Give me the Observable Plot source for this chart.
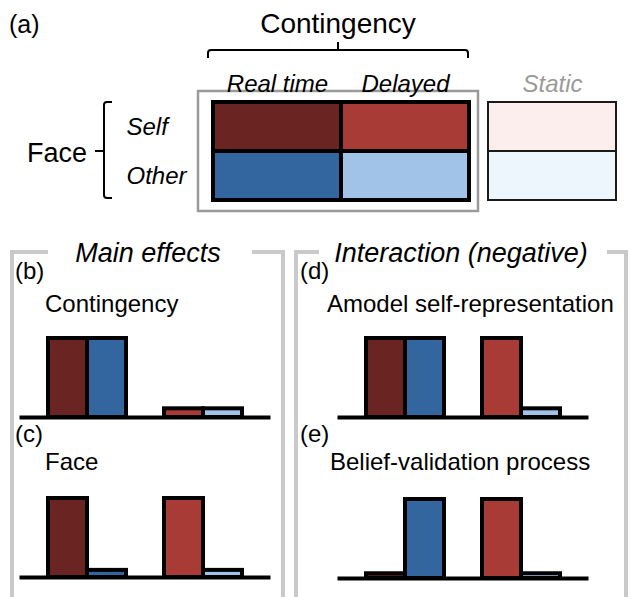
<!DOCTYPE html>
<html>
<head>
<meta charset="utf-8">
<script src="https://cdn.jsdelivr.net/npm/d3@7"></script>
<script src="https://cdn.jsdelivr.net/npm/@observablehq/plot@0.6"></script>
<style>
  html, body { margin: 0; padding: 0; background: white; }
  body { font-family: "Liberation Sans", Arial, Helvetica, sans-serif; }
  #root { position: relative; width: 630px; height: 597px; overflow: hidden; background: white; }
  #root > svg { position: absolute; }
</style>
</head>
<body>
<div id="root"></div>
<script>
// ---------------- data ----------------
const contingencies = ["Real time", "Delayed"];
const faces = ["Self", "Other"];
const staticLabel = ["Static"];

// bar order: Real time/Self, Real time/Other, Delayed/Self, Delayed/Other
const contingencyValues = [1, 1, 0.11, 0.11];        // (b)
const faceValues = [1, 0.09, 1, 0.09];               // (c)
const amodalValues = [1, 1, 1, 0.11];                // (d)
const beliefValues = [0.06, 1, 1, 0.06];             // (e)

const panelTitles = ["Contingency", "Face", "Amodel self-representation", "Belief-validation process"];
const panelLetters = ["(b)", "(c)", "(d)", "(e)"];

// ---------------- styles ----------------
const conditionKeys = ["Real time|Self", "Delayed|Self", "Real time|Other", "Delayed|Other"];
const conditionColors = ["#6a2422", "#a83b36", "#33669e", "#a2c3e8"];
const staticKeys = ["Static|Self", "Static|Other"];
const staticColors = ["#fdeeee", "#eef6fd"];
const FONT = '"Liberation Sans", Arial, Helvetica, sans-serif';
const plotStyle = {background: "transparent", overflow: "visible", fontFamily: FONT, color: "black"};

const root = document.getElementById("root");

// ---------------- decorations (frames, braces, labels) ----------------
const deco = d3.select(root).append("svg")
  .attr("width", 630).attr("height", 597)
  .style("left", "0px").style("top", "0px")
  .attr("font-family", FONT);

function label(x, y, txt, size, opts = {}) {
  deco.append("text")
    .attr("x", x).attr("y", y)
    .attr("font-size", size)
    .attr("text-anchor", opts.anchor || "start")
    .attr("font-style", opts.italic ? "italic" : "normal")
    .attr("fill", opts.fill || "black")
    .text(txt);
}

// (a) header
label(9, 33, "(a)", 25);
label(338, 33, "Contingency", 28, {anchor: "middle"});
deco.append("path")
  .attr("d", "M208,58 V53 Q208,50 211,50 H465 Q468,50 468,53 V58 M338,50 V42")
  .attr("fill", "none").attr("stroke", "black").attr("stroke-width", 2);
// gray box round the contingency grid
deco.append("rect")
  .attr("x", 198).attr("y", 91).attr("width", 280).attr("height", 120)
  .attr("fill", "none").attr("stroke", "#9a9a9a").attr("stroke-width", 2.5);
// Face brace
label(27, 162, "Face", 27);
deco.append("path")
  .attr("d", "M112,102 H107 Q104,102 104,105 V195 Q104,198 107,198 H112 M104,151 H95")
  .attr("fill", "none").attr("stroke", "black").attr("stroke-width", 2);

// gray frames
const frameColor = "#c9c9c9";
deco.append("path")
  .attr("d", "M48,252 H12 V600 M252,252 H283 V600 M319,252 H296 V600 M607,252 H626 V600")
  .attr("fill", "none").attr("stroke", frameColor).attr("stroke-width", 4);
label(148, 262, "Main effects", 27, {anchor: "middle", italic: true});
label(461, 262, "Interaction (negative)", 27, {anchor: "middle", italic: true});

// panel letters and titles
const letterPos = [[15, 279], [15, 442], [300, 279], [300, 442]];
const titlePos = [[45, 312], [45, 470], [327, 312], [330, 470]];
panelLetters.forEach((t, i) => label(letterPos[i][0], letterPos[i][1], t, 24));
panelTitles.forEach((t, i) => label(titlePos[i][0], titlePos[i][1], t, 24));

// ---------------- (a) condition grid ----------------
const gridCells = faces.flatMap(f => contingencies.map(c => ({face: f, contingency: c, key: c + "|" + f})));
const grid = Plot.plot({
  width: 490, height: 215,
  marginLeft: 212, marginRight: 21, marginTop: 101, marginBottom: 15,
  style: plotStyle,
  x: {domain: contingencies, padding: 0, axis: null},
  y: {domain: faces, padding: 0, axis: null},
  color: {domain: conditionKeys, range: conditionColors},
  marks: [
    Plot.cell(gridCells, {x: "contingency", y: "face", fill: "key", stroke: "black", strokeWidth: 4, inset: 0}),
    Plot.text(contingencies, {x: d => d, frameAnchor: "top", dy: -27, fontSize: 24, fontStyle: "italic", fill: "black"}),
    Plot.text(faces, {y: d => d, frameAnchor: "left", textAnchor: "start", dx: -86, fontSize: 24, fontStyle: "italic", fill: "black"})
  ]
});
grid.style.left = "0px"; grid.style.top = "0px";
root.appendChild(grid);

// static column
const staticCells = faces.map(f => ({face: f, cond: staticLabel[0], key: staticLabel[0] + "|" + f}));
const stat = Plot.plot({
  width: 140, height: 215,
  marginLeft: 8, marginRight: 4, marginTop: 101, marginBottom: 15,
  style: plotStyle,
  x: {domain: staticLabel, padding: 0, axis: null},
  y: {domain: faces, padding: 0, axis: null},
  color: {domain: staticKeys, range: staticColors},
  marks: [
    Plot.cell(staticCells, {x: "cond", y: "face", fill: "key", stroke: "#1a1a1a", strokeWidth: 2, inset: 0}),
    Plot.text(staticLabel, {x: d => d, frameAnchor: "top", dy: -27, fontSize: 24, fontStyle: "italic", fill: "#9a9a9a"})
  ]
});
stat.style.left = "480px"; stat.style.top = "0px";
root.appendChild(stat);

// ---------------- bar panels ----------------
const barOrder = [["Real time", "Self"], ["Real time", "Other"], ["Delayed", "Self"], ["Delayed", "Other"]];
function barPanel(values, left, top) {
  const data = barOrder.map(([c, f], i) => ({contingency: c, face: f, key: c + "|" + f, value: values[i]}));
  const p = Plot.plot({
    width: 250, height: 102,
    marginLeft: 28, marginRight: 28, marginTop: 18, marginBottom: 5,
    style: plotStyle,
    fx: {domain: contingencies, paddingInner: 0.33, paddingOuter: 0, axis: null},
    x: {domain: faces, padding: 0, axis: null},
    y: {domain: [0, 1], axis: null},
    color: {domain: conditionKeys, range: conditionColors},
    marks: [
      Plot.barY(data, {fx: "contingency", x: "face", y: "value", fill: "key", stroke: "black", strokeWidth: 4, inset: 0}),
      // baseline (y = 0 is the bottom of the frame) drawn once across the whole panel
      Plot.frame({anchor: "bottom", facet: "super", stroke: "black", strokeWidth: 4, insetLeft: -27, insetRight: -26})
    ]
  });
  p.style.left = left + "px"; p.style.top = top + "px";
  root.appendChild(p);
}
barPanel(contingencyValues, 20, 320);
barPanel(faceValues, 20, 480);
barPanel(amodalValues, 338, 320);
barPanel(beliefValues, 338, 481);
</script>
</body>
</html>
